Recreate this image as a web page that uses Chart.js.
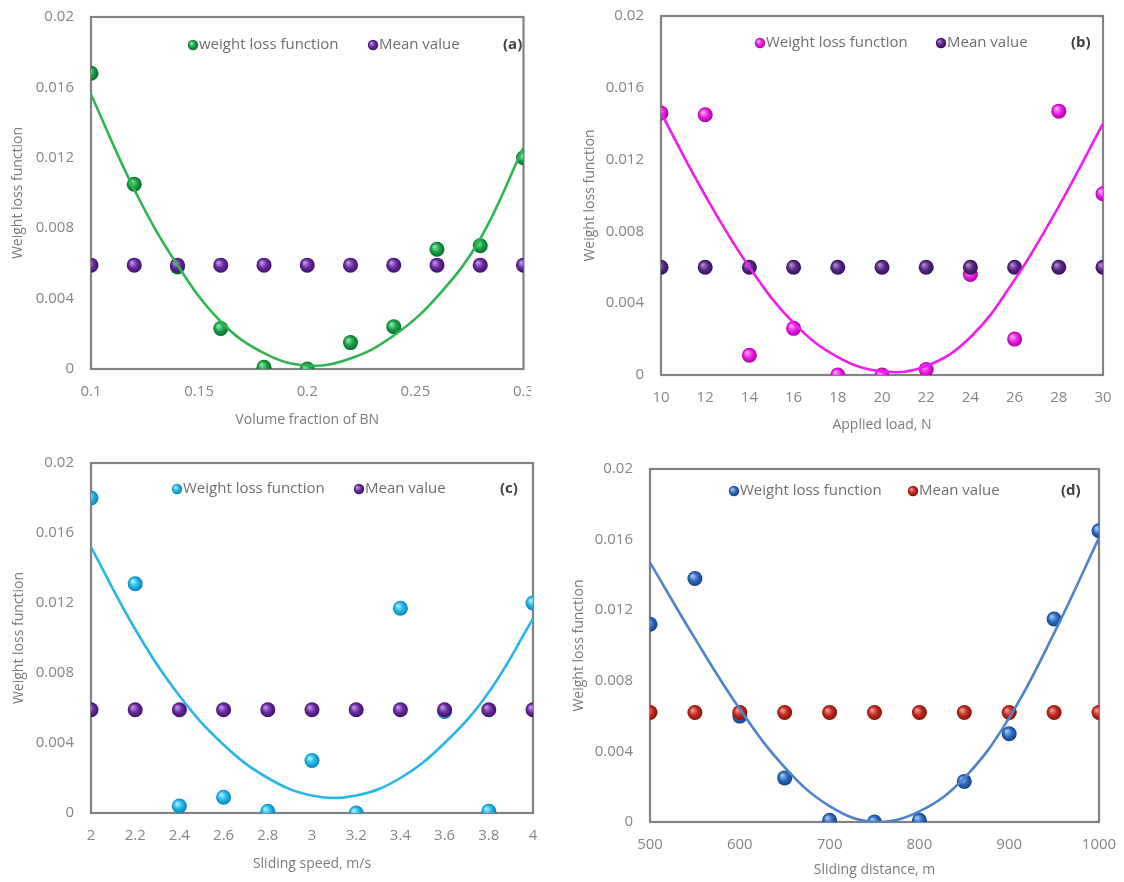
<!DOCTYPE html>
<html>
<head>
<meta charset="utf-8">
<script src="https://cdn.jsdelivr.net/npm/chart.js@4"></script>
<style>
  body { margin: 0; background: #fff; }
  #wrap { position: relative; width: 1124px; height: 882px; overflow: hidden; }
  canvas { position: absolute; }
</style>
</head>
<body>
<div id="wrap">
  <canvas id="chartA" width="531" height="440" style="left:0;top:0"></canvas>
  <canvas id="chartB" width="564" height="440" style="left:560px;top:0"></canvas>
  <canvas id="chartC" width="560" height="442" style="left:0;top:440px"></canvas>
  <canvas id="chartD" width="564" height="442" style="left:560px;top:440px"></canvas>
</div>
<script>
// (a) volume fraction of BN
const fracBN = [0.1, 0.12, 0.14, 0.16, 0.18, 0.2, 0.22, 0.24, 0.26, 0.28, 0.3];
const lossA  = [0.0168, 0.0105, 0.0058, 0.0023, 0.0001, 0.0000, 0.0015, 0.0024, 0.0068, 0.0070, 0.0120];
const meanA  = [0.0059, 0.0059, 0.0059, 0.0059, 0.0059, 0.0059, 0.0059, 0.0059, 0.0059, 0.0059, 0.0059];
const fitA   = [0.0156, 0.0102, 0.0059, 0.0027, 0.0009, 0.0002, 0.0006, 0.0019, 0.0041, 0.0074, 0.0126];

// (b) applied load
const loadN = [10, 12, 14, 16, 18, 20, 22, 24, 26, 28, 30];
const lossB = [0.0146, 0.0145, 0.0011, 0.0026, 0.0000, 0.0000, 0.0003, 0.0056, 0.0020, 0.0147, 0.0101];
const meanB = [0.0060, 0.0060, 0.0060, 0.0060, 0.0060, 0.0060, 0.0060, 0.0060, 0.0060, 0.0060, 0.0060];
const fitB  = [0.0146, 0.0100, 0.0060, 0.0029, 0.0010, 0.0002, 0.0005, 0.0021, 0.0053, 0.0094, 0.0140];

// (c) sliding speed
const speed = [2, 2.2, 2.4, 2.6, 2.8, 3, 3.2, 3.4, 3.6, 3.8, 4];
const lossC = [0.0180, 0.0131, 0.0004, 0.0009, 0.0001, 0.0030, 0.0000, 0.0117, 0.0058, 0.0001, 0.0120];
const meanC = [0.0059, 0.0059, 0.0059, 0.0059, 0.0059, 0.0059, 0.0059, 0.0059, 0.0059, 0.0059, 0.0059];
const fitC  = [0.0152, 0.0105, 0.0067, 0.0039, 0.0020, 0.0010, 0.0010, 0.0020, 0.0040, 0.0069, 0.0111];

// (d) sliding distance
const dist  = [500, 550, 600, 650, 700, 750, 800, 850, 900, 950, 1000];
const lossD = [0.0112, 0.0138, 0.0060, 0.0025, 0.0001, 0.0000, 0.0001, 0.0023, 0.0050, 0.0115, 0.0165];
const meanD = [0.0062, 0.0062, 0.0062, 0.0062, 0.0062, 0.0062, 0.0062, 0.0062, 0.0062, 0.0062, 0.0062];
const fitD  = [0.0147, 0.0104, 0.0064, 0.0031, 0.0009, 0.0000, 0.0006, 0.0025, 0.0059, 0.0107, 0.0161];

const yTicks = [0, 0.004, 0.008, 0.012, 0.016, 0.02];

const FONT = "'Open Sans', 'DejaVu Sans', sans-serif";

// shaded ball colours: base, highlight, shadow
const GREEN   = ['#19a347', '#8be8a4', '#0a6428'];
const PURPLE  = ['#6c2aa2', '#bb95e4', '#3a0e62'];
const PURPLE2 = ['#5a2888', '#a98ad2', '#2e0d50'];
const MAGENTA = ['#ee1ee6', '#ffa6ff', '#a00098'];
const CYAN    = ['#1fb8ea', '#a8eeff', '#0a7cad'];
const BLUE    = ['#2f6cc0', '#a0c6f5', '#163b7c'];
const RED     = ['#c42a1f', '#f3978f', '#7a110a'];

function ballGradient(c, x, y, r, col) {
  const g = c.createRadialGradient(x - r * 0.35, y - r * 0.35, r * 0.08, x, y, r * 1.05);
  g.addColorStop(0, col[1]);
  g.addColorStop(0.5, col[0]);
  g.addColorStop(1, col[2]);
  return g;
}

function ball(col) {
  return function (ctx) {
    if (ctx.type !== 'data' || !ctx.parsed) return col[0];
    const ch = ctx.chart;
    const x = ch.scales.x.getPixelForValue(ctx.parsed.x);
    const y = ch.scales.y.getPixelForValue(ctx.parsed.y);
    if (!isFinite(x) || !isFinite(y)) return col[0];
    return ballGradient(ch.ctx, x, y, 7.5, col);
  };
}

function pts(xs, ys) {
  return xs.map((x, i) => ({ x: x, y: ys[i] }));
}

// frame around the plot area, drawn under the points
const framePlugin = {
  id: 'frame',
  beforeDatasetsDraw(chart) {
    const a = chart.chartArea;
    const c = chart.ctx;
    c.save();
    c.strokeStyle = '#828282';
    c.lineWidth = 2.2;
    c.strokeRect(a.left, a.top, a.right - a.left, a.bottom - a.top);
    c.restore();
  }
};

// legend inside the plot, plus panel tag
const insideLegend = {
  id: 'insideLegend',
  afterDraw(chart, args, opts) {
    const c = chart.ctx;
    c.save();
    c.textBaseline = 'middle';
    c.font = '15px ' + FONT;
    opts.items.forEach(it => {
      c.beginPath();
      c.arc(it.x, opts.y, 5.2, 0, Math.PI * 2);
      c.fillStyle = ballGradient(c, it.x, opts.y, 5.2, it.col);
      c.fill();
      c.fillStyle = '#6e6e6e';
      c.textAlign = 'left';
      c.fillText(it.text, it.x + 6, opts.y);
    });
    c.font = 'bold 15px ' + FONT;
    c.fillStyle = '#404040';
    c.fillText(opts.tag, opts.tagX, opts.y);
    c.restore();
  }
};

function fmt(v, d) {
  return v === 0 ? '0' : String(Number(v.toFixed(d)));
}

function makePanel(p) {
  // p.box = canvas rect, p.area = wanted plot area in page coords
  const padTop = p.area.t - p.box.y;
  const padRight = p.box.x + p.box.w - p.area.r;
  const yWidth = p.area.l - p.box.x;
  const xHeight = p.box.y + p.box.h - p.area.b;

  new Chart(document.getElementById(p.id), {
    type: 'scatter',
    data: {
      datasets: [
        {
          label: 'fit',
          type: 'line',
          data: pts(p.xs, p.fit),
          borderColor: p.fitColor,
          borderWidth: 2.6,
          pointRadius: 0,
          tension: 0.4,
          fill: false
        },
        {
          label: 'Mean value',
          data: pts(p.xs, p.mean),
          pointRadius: 7.5,
          pointBorderWidth: 0,
          pointBackgroundColor: ball(p.meanCol)
        },
        {
          label: p.lossLabel,
          data: pts(p.xs, p.loss),
          pointRadius: 7.5,
          pointBorderWidth: 0,
          pointBackgroundColor: ball(p.lossCol)
        }
      ]
    },
    options: {
      responsive: false,
      animation: false,
      events: [],
      layout: { padding: { left: 0, top: padTop, right: padRight, bottom: 0 } },
      plugins: {
        legend: { display: false },
        tooltip: { enabled: false },
        insideLegend: {
          y: p.legY,
          items: [
            { x: p.leg1, text: p.lossLabel, col: p.lossCol },
            { x: p.leg2, text: 'Mean value', col: p.meanCol }
          ],
          tag: p.tag,
          tagX: p.tagX
        }
      },
      scales: {
        x: {
          type: 'linear',
          min: p.xs[0],
          max: p.xs[p.xs.length - 1],
          afterBuildTicks(s) { s.ticks = p.xTicks.map(v => ({ value: v })); },
          afterFit(s) {
            s.height = xHeight;
            s.paddingLeft = 0;
            s.paddingRight = 0;
          },
          grid: { display: false, drawTicks: false },
          border: { display: false },
          ticks: {
            padding: 14,
            color: '#858585',
            font: { family: FONT, size: 15 },
            maxRotation: 0,
            autoSkip: false,
            callback: v => fmt(v, p.xDec)
          },
          title: {
            display: true,
            text: p.xTitle,
            color: '#7a7a7a',
            font: { family: FONT, size: 14 },
            padding: { top: 0, bottom: p.xTitlePad }
          }
        },
        y: {
          min: 0,
          max: 0.02,
          afterBuildTicks(s) { s.ticks = yTicks.map(v => ({ value: v })); },
          afterFit(s) {
            s.width = yWidth;
            s.paddingTop = 0;
            s.paddingBottom = 0;
          },
          grid: { display: false, drawTicks: false },
          border: { display: false },
          ticks: {
            padding: 17,
            color: '#858585',
            font: { family: FONT, size: 15 },
            callback: v => fmt(v, 3)
          },
          title: {
            display: true,
            text: 'Weight loss function',
            color: '#7a7a7a',
            font: { family: FONT, size: 14 },
            padding: { top: p.yTitlePad, bottom: 0 }
          }
        }
      }
    },
    plugins: [framePlugin, insideLegend]
  });
}

makePanel({
  id: 'chartA', box: { x: 0, y: 0, w: 531, h: 440 }, area: { l: 91, t: 17, r: 530, b: 369 },
  xs: fracBN, loss: lossA, mean: meanA, fit: fitA,
  xTicks: [0.1, 0.15, 0.2, 0.25, 0.3], xDec: 2,
  lossCol: GREEN, meanCol: PURPLE, fitColor: '#2db552',
  lossLabel: 'weight loss function', tag: '(a)',
  legY: 45, leg1: 193, leg2: 373, tagX: 503,
  xTitle: 'Volume fraction of BN', xTitlePad: 12, yTitlePad: 10
});

makePanel({
  id: 'chartB', box: { x: 560, y: 0, w: 564, h: 440 }, area: { l: 661, t: 16, r: 1103, b: 375 },
  xs: loadN, loss: lossB, mean: meanB, fit: fitB,
  xTicks: loadN, xDec: 0,
  lossCol: MAGENTA, meanCol: PURPLE2, fitColor: '#f01cf0',
  lossLabel: 'Weight loss function', tag: '(b)',
  legY: 43, leg1: 760 - 560, leg2: 941 - 560, tagX: 1071 - 560,
  xTitle: 'Applied load, N', xTitlePad: 7, yTitlePad: 22
});

makePanel({
  id: 'chartC', box: { x: 0, y: 440, w: 560, h: 442 }, area: { l: 91, t: 463, r: 533, b: 813 },
  xs: speed, loss: lossC, mean: meanC, fit: fitC,
  xTicks: speed, xDec: 1,
  lossCol: CYAN, meanCol: PURPLE, fitColor: '#27b5ea',
  lossLabel: 'Weight loss function', tag: '(c)',
  legY: 489 - 440, leg1: 177, leg2: 359, tagX: 500,
  xTitle: 'Sliding speed, m/s', xTitlePad: 10, yTitlePad: 11
});

makePanel({
  id: 'chartD', box: { x: 560, y: 440, w: 564, h: 442 }, area: { l: 650, t: 469, r: 1099, b: 822 },
  xs: dist, loss: lossD, mean: meanD, fit: fitD,
  xTicks: [500, 600, 700, 800, 900, 1000], xDec: 0,
  lossCol: BLUE, meanCol: RED, fitColor: '#4f82c9',
  lossLabel: 'Weight loss function', tag: '(d)',
  legY: 491 - 440, leg1: 734 - 560, leg2: 913 - 560, tagX: 1061 - 560,
  xTitle: 'Sliding distance, m', xTitlePad: 4, yTitlePad: 11
});
</script>
</body>
</html>
